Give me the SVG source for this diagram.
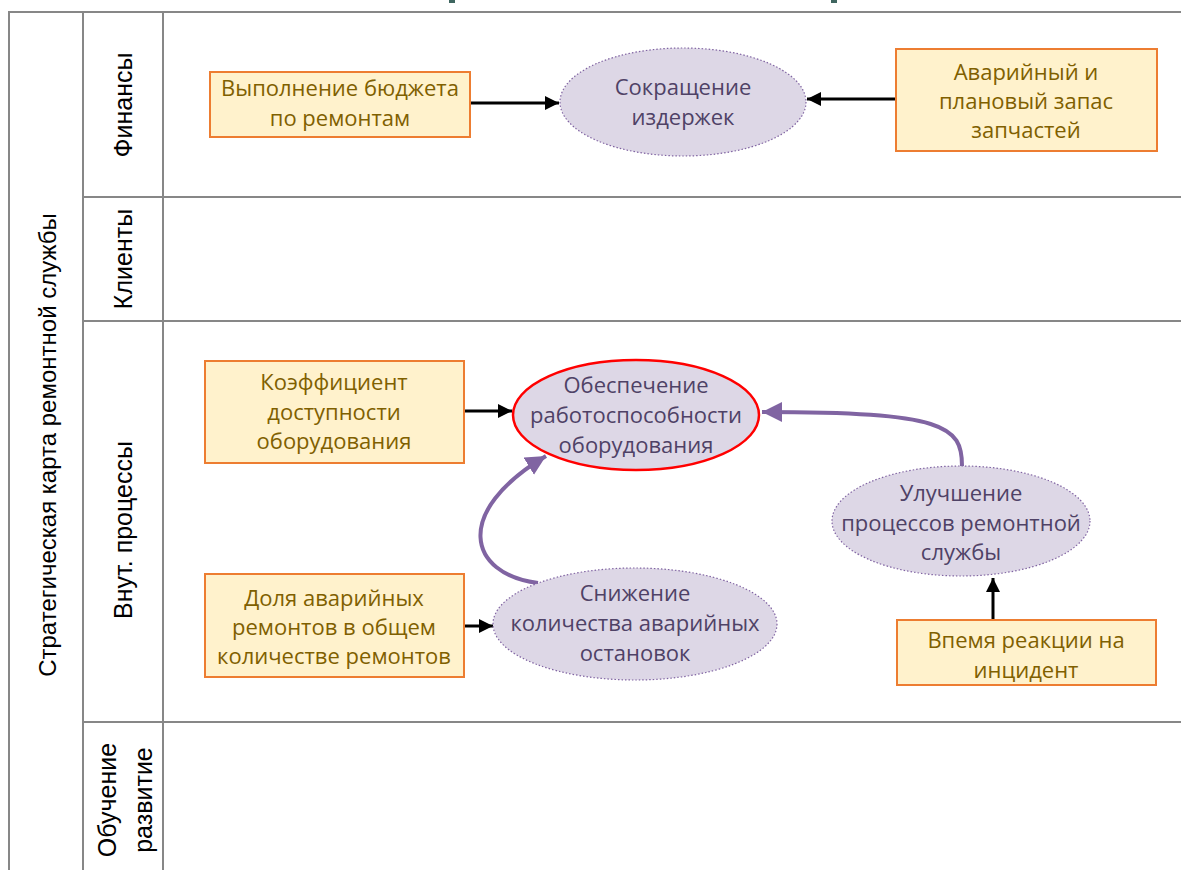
<svg xmlns="http://www.w3.org/2000/svg" width="1181" height="870" viewBox="0 0 1181 870">
<style>
.grid{stroke:#878787;stroke-width:2;fill:none}
.lane{font-family:"Liberation Sans",Arial,sans-serif;font-size:25px;fill:#000;text-anchor:middle}
.lane.big{font-size:24px}
.box rect{fill:#fff2cc;stroke:#ed7d31;stroke-width:2}
.box text{font-family:"Open Sans","Noto Sans",sans-serif;font-size:22px;fill:#7f6000;text-anchor:middle}
.goal ellipse{fill:#ddd7e6;stroke:#8064a2;stroke-width:1.2;stroke-dasharray:1.5 2}
.goal text{font-family:"Open Sans","Noto Sans",sans-serif;font-size:22px;fill:#4f4266;text-anchor:middle}
.goal ellipse.key{stroke:#ff0000;stroke-width:2.5;stroke-dasharray:none}
.blk{stroke:#000;stroke-width:3;fill:none;marker-end:url(#ab)}
.pur{stroke:#8064a2;stroke-width:4;fill:none;marker-end:url(#ap)}
</style>
<defs>
<marker id="ab" markerUnits="userSpaceOnUse" markerWidth="16" markerHeight="16" refX="14" refY="7" orient="auto"><path d="M0,0 L14,7 L0,14 Z" fill="#000"/></marker>
<marker id="ap" markerUnits="userSpaceOnUse" markerWidth="24" markerHeight="24" refX="20" refY="10" orient="auto"><path d="M0,0 L20,10 L0,20 Z" fill="#8064a2"/></marker>
</defs>
<rect width="1181" height="870" fill="#fff"/>
<rect x="449" y="0" width="6" height="3" fill="#3f6660"/>
<rect x="831" y="0" width="6" height="3" fill="#3f6660"/>
<g id="frame">
<path class="grid" d="M9,870 V12 H1181 M83,12 V870 M163,12 V870 M83,197 H1181 M83,321 H1181 M83,722 H1181"/>
<text class="lane big" transform="translate(56,445) rotate(-90)">Стратегическая карта ремонтной службы</text>
<text class="lane" transform="translate(132,105) rotate(-90)">Финансы</text>
<text class="lane" transform="translate(132,259) rotate(-90)">Клиенты</text>
<text class="lane" transform="translate(132,530) rotate(-90)">Внут. процессы</text>
<text class="lane" transform="translate(116,800) rotate(-90)">Обучение</text>
<text class="lane" transform="translate(152,800) rotate(-90)">развитие</text>
</g>
<g id="connectors">
<path class="blk" d="M470,103 L559,103"/>
<path class="blk" d="M896,99 L807,99"/>
<path class="blk" d="M464,411 L512,411"/>
<path class="blk" d="M464,626 L493,626"/>
<path class="blk" d="M993,620 L993,578"/>
<path class="pur" d="M538,583 C468,574 452,512 546,456"/>
<path class="pur" d="M962,466 C962,426 945,412 762,412"/>
</g>
<g id="n1" class="box"><rect x="210" y="72" width="260" height="65"/><text x="340" y="96">Выполнение бюджета</text><text x="340" y="126">по ремонтам</text></g>
<g id="n2" class="goal"><ellipse cx="683" cy="102" rx="123" ry="54"/><text x="683" y="95">Сокращение</text><text x="683" y="125">издержек</text></g>
<g id="n3" class="box"><rect x="896" y="49" width="261" height="102"/><text x="1026" y="80">Аварийный и</text><text x="1026" y="109">плановый запас</text><text x="1026" y="138">запчастей</text></g>
<g id="n4" class="box"><rect x="205" y="361" width="259" height="102"/><text x="334" y="390">Коэффициент</text><text x="334" y="420">доступности</text><text x="334" y="449">оборудования</text></g>
<g id="n5" class="goal"><ellipse class="key" cx="636" cy="415" rx="123" ry="55"/><text x="636" y="393">Обеспечение</text><text x="636" y="423">работоспособности</text><text x="636" y="453">оборудования</text></g>
<g id="n6" class="box"><rect x="205" y="574" width="259" height="103"/><text x="334" y="606">Доля аварийных</text><text x="334" y="635">ремонтов в общем</text><text x="334" y="664">количестве ремонтов</text></g>
<g id="n7" class="goal"><ellipse cx="635" cy="624" rx="142" ry="56"/><text x="635" y="601">Снижение</text><text x="635" y="631">количества аварийных</text><text x="635" y="661">остановок</text></g>
<g id="n8" class="goal"><ellipse cx="961" cy="521" rx="129" ry="55"/><text x="961" y="501">Улучшение</text><text x="961" y="531">процессов ремонтной</text><text x="961" y="560">службы</text></g>
<g id="n9" class="box"><rect x="897" y="620" width="259" height="65"/><text x="1026" y="648">Впемя реакции на</text><text x="1026" y="678">инцидент</text></g>
</svg>
